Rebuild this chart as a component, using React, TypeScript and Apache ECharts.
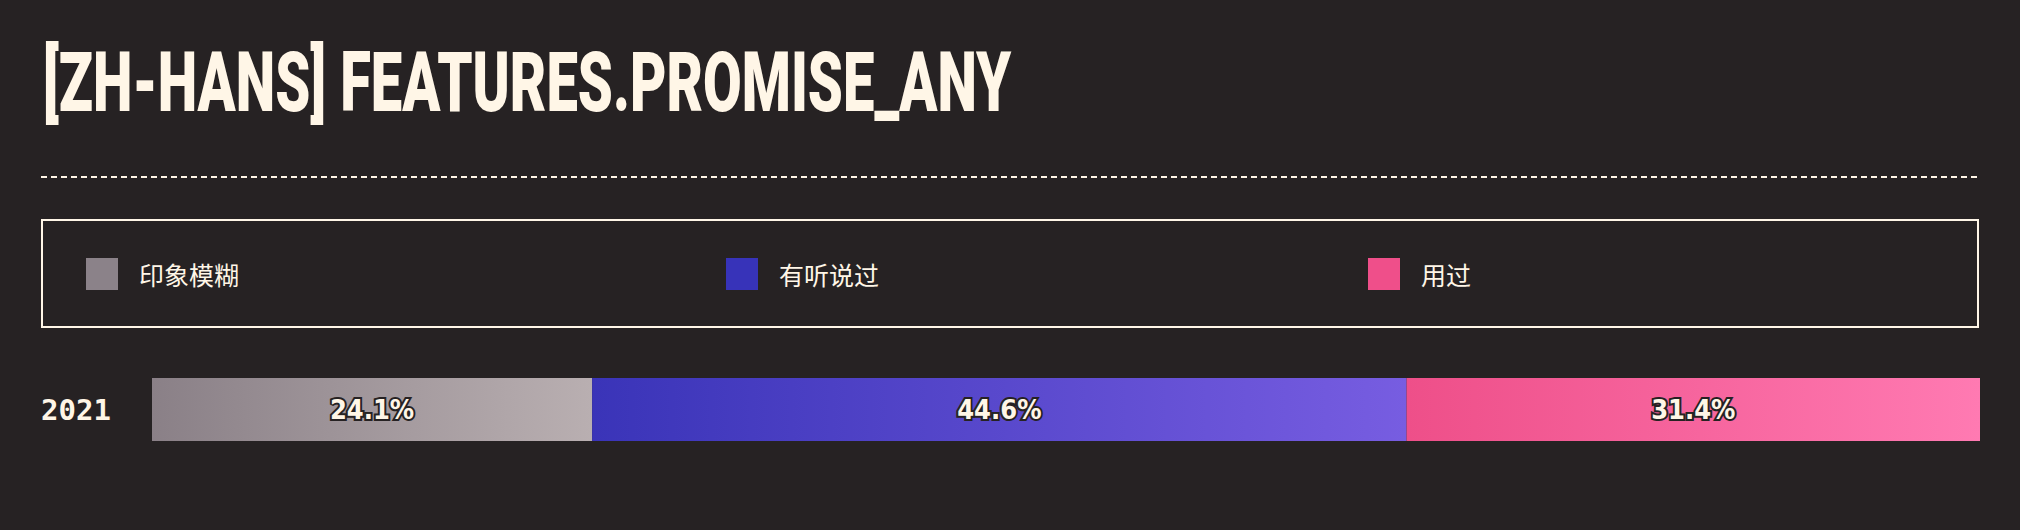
import React, { useEffect, useRef } from "react";
import * as echarts from "echarts";

const TITLE = "[ZH-HANS] FEATURES.PROMISE_ANY";
const categories = ["2021"];
const seriesNames = ["印象模糊", "有听说过", "用过"];
const seriesValues = [[24.1], [44.6], [31.4]];
const swatchColors = ["#8b8289", "#3733b9", "#ef4f8a"];
const gradientStops = [
  ["#8a8087", "#b9afb1"],
  ["#3a34b8", "#775de1"],
  ["#ee4f89", "#ff7ab2"],
];
const legendLefts = [86, 726, 1368];

const BG = "#262223";
const CREAM = "#fff6e7";

export default function App() {
  const ref = useRef<HTMLDivElement>(null);
  useEffect(() => {
    document.body.style.margin = "0";
    document.body.style.background = BG;
    const chart = echarts.init(ref.current!, null, { renderer: "svg" });

    const titleFont = "900 83px Roboto";
    const cv = document.createElement("canvas");
    const ctx = cv.getContext("2d")!;
    ctx.font = titleFont;
    const w = ctx.measureText(TITLE).width || 1;
    const sx = 968 / w;

    const total = seriesValues.reduce((a, s) => a + s[0], 0);

    chart.setOption({
      animation: false,
      backgroundColor: BG,
      grid: { left: 152, right: 40, top: 378, height: 63 },
      xAxis: { type: "value", min: 0, max: total, show: false },
      yAxis: {
        type: "category",
        data: categories,
        axisLine: { show: false },
        axisTick: { show: false },
        splitLine: { show: false },
        axisLabel: {
          color: CREAM,
          fontFamily: "DejaVu Sans Mono",
          fontWeight: "bold",
          fontSize: 29,
          align: "left",
          margin: 111,
        },
      },
      legend: seriesNames.map((name, i) => ({
        data: [{ name, icon: "rect", itemStyle: { color: swatchColors[i] } }],
        left: legendLefts[i],
        top: 258,
        padding: 0,
        itemWidth: 32,
        itemHeight: 32,
        selectedMode: false,
        textStyle: {
          color: CREAM,
          fontSize: 25,
          fontFamily: "Noto Sans CJK SC",
          padding: [0, 0, 2, 16],
        },
      })),
      series: seriesNames.map((name, i) => ({
        name,
        type: "bar",
        stack: "total",
        barWidth: "100%",
        data: seriesValues[i],
        color: swatchColors[i],
        itemStyle: {
          color: new echarts.graphic.LinearGradient(0, 0, 1, 0, [
            { offset: 0, color: gradientStops[i][0] },
            { offset: 1, color: gradientStops[i][1] },
          ]),
        },
        emphasis: { disabled: true },
        label: {
          show: true,
          position: "inside",
          formatter: (p: any) => p.value.toFixed(1) + "%",
          color: CREAM,
          fontSize: 27,
          fontWeight: "bold",
          fontFamily: "'DejaVu Sans Condensed', sans-serif",
          textBorderColor: BG,
          textBorderWidth: 4,
        },
      })),
      graphic: [
        {
          type: "text",
          x: 43,
          y: 82,
          scaleX: sx,
          style: {
            text: TITLE,
            font: titleFont,
            fill: CREAM,
            align: "left",
            verticalAlign: "middle",
          },
        },
        {
          type: "line",
          shape: { x1: 41, y1: 177, x2: 1979, y2: 177 },
          style: { stroke: CREAM, lineWidth: 2, lineDash: [6, 4] },
        },
        {
          type: "rect",
          shape: { x: 42, y: 220, width: 1936, height: 107 },
          style: { fill: "none", stroke: CREAM, lineWidth: 2 },
        },
      ],
    });
    return () => chart.dispose();
  }, []);
  return <div ref={ref} style={{ width: 2020, height: 530 }} />;
}
